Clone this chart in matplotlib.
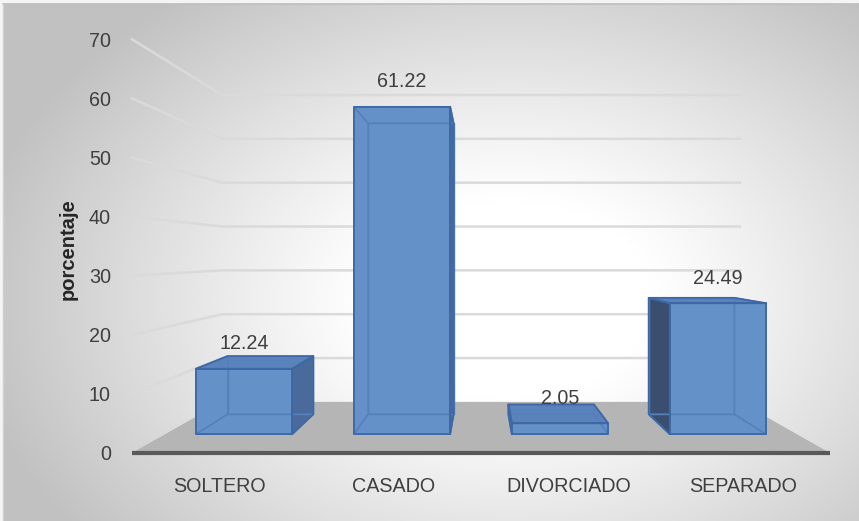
import numpy as np
import matplotlib
matplotlib.use("Agg")
import matplotlib.pyplot as plt
from matplotlib.patches import Polygon

# ---- data ----
categories = ["SOLTERO", "CASADO", "DIVORCIADO", "SEPARADO"]
values = [12.24, 61.22, 2.05, 24.49]
value_labels = ["12.24", "61.22", "2.05", "24.49"]
yticks = [0, 10, 20, 30, 40, 50, 60, 70]
ylabel = "porcentaje"

# ---- layout (pixel space of the figure) ----
W, H = 859, 521
X0, X1 = 132.0, 830.0          # front plane floor extent
Y0 = 453.0                     # front plane value 0
PPU = 5.91                     # pixels per unit on front plane
VX, VY = 481.0, 255.0          # vanishing point
K = 0.348                      # perspective depth factor
BAR_W = 0.61                   # fraction of category width
T0, T1 = 0.30, 0.70            # bar depth range (0 front, 1 back)

plt.rcParams['font.family'] = ['Liberation Sans', 'DejaVu Sans']
TXT = '#3f3f3f'
FS = 14.2

ncat = len(categories)
cat_w = (X1 - X0) / ncat


def proj(x, v, t):
    s = 1.0 / (1.0 + K * t)
    fx = x
    fy = Y0 - v * PPU
    return (VX + (fx - VX) * s, VY + (fy - VY) * s)


fig = plt.figure(figsize=(W / 100, H / 100), dpi=100)
fig.patch.set_facecolor('#f4f4f4')
ax = fig.add_axes([0, 0, 1, 1])
ax.set_xlim(0, W)
ax.set_ylim(H, 0)
ax.axis('off')

# background radial gradient
gx, gy = np.meshgrid(np.arange(3, W) + 0.5, np.arange(4, H) + 0.5)
r = np.sqrt(((gx - 510) / 470.0) ** 2 + ((gy - 300) / 330.0) ** 2)
f = np.clip((r - 0.30) / 0.85, 0, 1) ** 1.1
g = 1.0 - (1.0 - 0.76) * f
img = np.dstack([g, g, g])
ax.imshow(img, extent=(3, W, H, 4), origin='upper', zorder=0, aspect='auto',
          interpolation='bilinear')
ax.plot([3, W], [4, 4], color='#bdbdbd', lw=1.2, zorder=1)
ax.plot([3, 3], [4, H], color='#d0d0d0', lw=1.0, zorder=1)

# gridlines: side wall + back wall
for v in yticks:
    if v == 0:
        continue
    a = proj(X0, v, 0)
    b = proj(X0, v, 1)
    c = proj(X1, v, 1)
    ax.plot([a[0], b[0], c[0]], [a[1], b[1], c[1]], color='#dadada', lw=1.8,
            zorder=1, solid_joinstyle='round')

# floor
floor = [proj(X0, 0, 0), proj(X1, 0, 0), proj(X1, 0, 1), proj(X0, 0, 1)]
ax.add_patch(Polygon(floor, closed=True, facecolor='#b5b5b5', edgecolor='none', zorder=1.5))
fa, fb = proj(X0, 0, 0), proj(X1, 0, 0)
ax.plot([fa[0], fb[0]], [fa[1], fb[1]], color='#595959', lw=3.0, zorder=6,
        solid_capstyle='butt')

# tick labels
for v in yticks:
    px, py = proj(X0, v, 0)
    ax.text(111, py + 2, str(v), ha='right', va='center', fontsize=FS, color=TXT)

ax.text(68, 249, ylabel, rotation=90, ha='center', va='center', fontsize=14.5,
        fontweight='bold', color='#262626')

# bars
C_FRONT = '#6591c9'
C_TOP = '#5a82bb'
C_LEFT = '#3a4f70'
C_RIGHT = '#4a6a9c'
C_EDGE = '#3e68a5'
C_HID = '#5580bb'

for i, (cat, val, lab) in enumerate(zip(categories, values, value_labels)):
    cx = X0 + cat_w * (i + 0.5)
    xl, xr = cx - cat_w * BAR_W / 2, cx + cat_w * BAR_W / 2
    P = proj
    faces = {
        'front': [P(xl, 0, T0), P(xr, 0, T0), P(xr, val, T0), P(xl, val, T0)],
        'back': [P(xl, 0, T1), P(xr, 0, T1), P(xr, val, T1), P(xl, val, T1)],
        'top': [P(xl, val, T0), P(xr, val, T0), P(xr, val, T1), P(xl, val, T1)],
        'bottom': [P(xl, 0, T0), P(xr, 0, T0), P(xr, 0, T1), P(xl, 0, T1)],
        'left': [P(xl, 0, T0), P(xl, val, T0), P(xl, val, T1), P(xl, 0, T1)],
        'right': [P(xr, 0, T0), P(xr, val, T0), P(xr, val, T1), P(xr, 0, T1)],
    }
    top_y = Y0 - val * PPU
    vis = {
        'front': True,
        'back': False,
        'bottom': False,
        'top': top_y > VY,
        'left': xl > VX,
        'right': xr < VX,
    }
    cols = {'front': C_FRONT, 'top': C_TOP, 'left': C_LEFT, 'right': C_RIGHT}
    order = ['left', 'right', 'top', 'front']
    for k in order:
        if vis[k]:
            ax.add_patch(Polygon(faces[k], closed=True, facecolor=cols[k],
                                 edgecolor='none', zorder=3))
    for k in ['back', 'bottom', 'left', 'right', 'top']:
        if not vis[k]:
            ax.add_patch(Polygon(faces[k], closed=True, facecolor='none',
                                 edgecolor=C_HID, lw=1.0, zorder=4))
    for k in order:
        if vis[k]:
            ax.add_patch(Polygon(faces[k], closed=True, facecolor='none',
                                 edgecolor=C_EDGE, lw=1.3, zorder=5,
                                 joinstyle='round'))
    # value label above front-top center
    lx, ly = P(cx, val, T0)
    ax.text(lx, ly - 25, lab, ha='center', va='center', fontsize=FS, color=TXT, zorder=7)
    # category label
    ax.text(cx, 487, cat, ha='center', va='center', fontsize=FS, color=TXT)

fig.savefig('out.png', dpi=100, facecolor=fig.get_facecolor())
